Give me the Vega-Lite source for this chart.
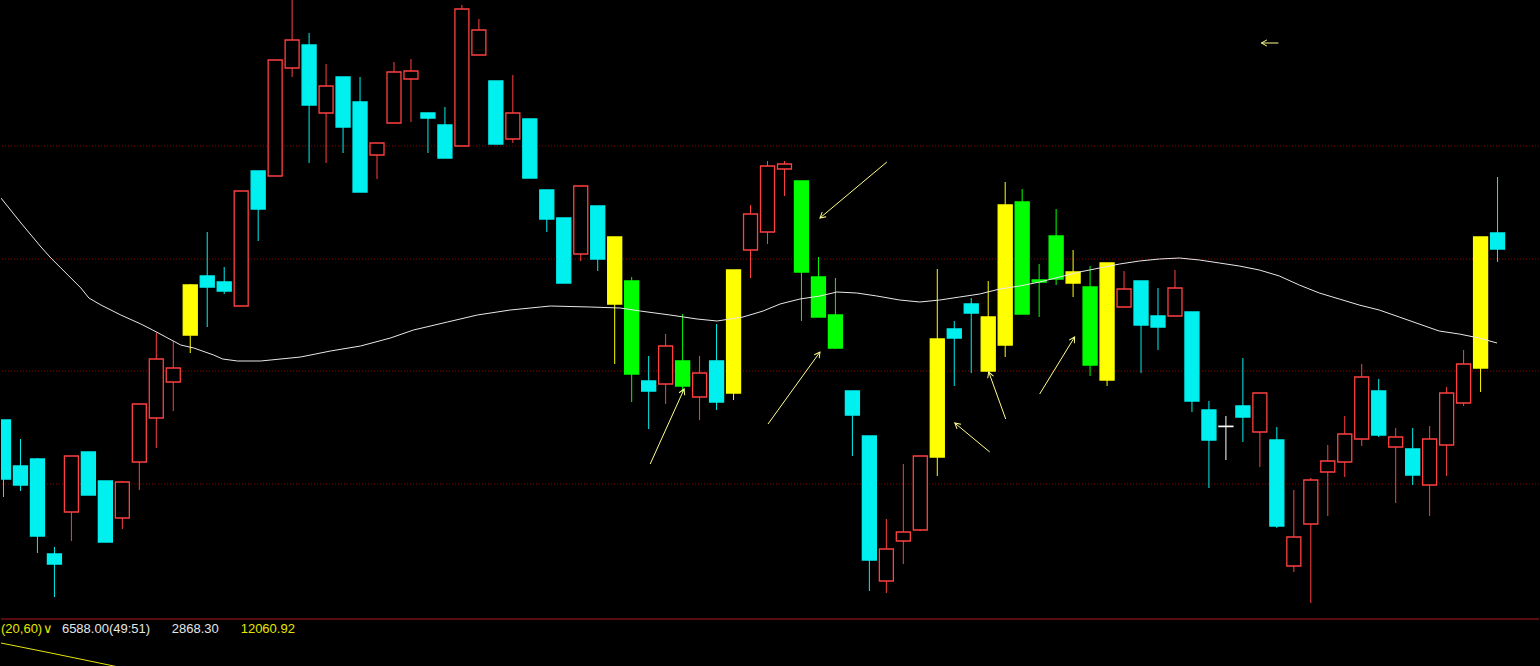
{
  "$schema": "https://vega.github.io/schema/vega-lite/v6.json",
  "width": 1540,
  "height": 666,
  "autosize": {"type": "fit", "contains": "padding"},
  "padding": 0,
  "background": "#000000",
  "config": {"view": {"stroke": null}},
  "datasets": {
    "candles": [
      {"t":0,"hi":420,"top":420,"bot":479,"lo":497,"c":"dn"},
      {"t":1,"hi":439,"top":466,"bot":485,"lo":491,"c":"dn"},
      {"t":2,"hi":458,"top":459,"bot":536,"lo":553,"c":"dn"},
      {"t":3,"hi":547,"top":554,"bot":564,"lo":597,"c":"dn"},
      {"t":4,"hi":456,"top":456,"bot":512,"lo":541,"c":"up"},
      {"t":5,"hi":452,"top":452,"bot":495,"lo":495,"c":"dn"},
      {"t":6,"hi":481,"top":481,"bot":542,"lo":542,"c":"dn"},
      {"t":7,"hi":481,"top":482,"bot":518,"lo":529,"c":"up"},
      {"t":8,"hi":404,"top":404,"bot":462,"lo":490,"c":"up"},
      {"t":9,"hi":333,"top":359,"bot":418,"lo":448,"c":"up"},
      {"t":10,"hi":341,"top":368,"bot":382,"lo":411,"c":"up"},
      {"t":11,"hi":284,"top":285,"bot":335,"lo":353,"c":"y"},
      {"t":12,"hi":232,"top":276,"bot":287,"lo":327,"c":"dn"},
      {"t":13,"hi":267,"top":282,"bot":291,"lo":294,"c":"dn"},
      {"t":14,"hi":191,"top":191,"bot":306,"lo":306,"c":"up"},
      {"t":15,"hi":171,"top":171,"bot":209,"lo":241,"c":"dn"},
      {"t":16,"hi":60,"top":60,"bot":176,"lo":176,"c":"up"},
      {"t":17,"hi":0,"top":40,"bot":68,"lo":77,"c":"up"},
      {"t":18,"hi":33,"top":45,"bot":105,"lo":163,"c":"dn"},
      {"t":19,"hi":64,"top":86,"bot":113,"lo":163,"c":"up"},
      {"t":20,"hi":77,"top":77,"bot":127,"lo":153,"c":"dn"},
      {"t":21,"hi":77,"top":102,"bot":192,"lo":192,"c":"dn"},
      {"t":22,"hi":143,"top":143,"bot":155,"lo":179,"c":"up"},
      {"t":23,"hi":62,"top":72,"bot":123,"lo":123,"c":"up"},
      {"t":24,"hi":59,"top":71,"bot":79,"lo":122,"c":"up"},
      {"t":25,"hi":113,"top":113,"bot":118,"lo":153,"c":"dn"},
      {"t":26,"hi":107,"top":125,"bot":158,"lo":158,"c":"dn"},
      {"t":27,"hi":5,"top":9,"bot":146,"lo":146,"c":"up"},
      {"t":28,"hi":19,"top":30,"bot":55,"lo":55,"c":"up"},
      {"t":29,"hi":81,"top":81,"bot":144,"lo":144,"c":"dn"},
      {"t":30,"hi":75,"top":113,"bot":139,"lo":143,"c":"up"},
      {"t":31,"hi":119,"top":119,"bot":178,"lo":178,"c":"dn"},
      {"t":32,"hi":190,"top":190,"bot":219,"lo":232,"c":"dn"},
      {"t":33,"hi":218,"top":218,"bot":283,"lo":283,"c":"dn"},
      {"t":34,"hi":186,"top":186,"bot":254,"lo":261,"c":"up"},
      {"t":35,"hi":206,"top":206,"bot":259,"lo":271,"c":"dn"},
      {"t":36,"hi":237,"top":237,"bot":304,"lo":364,"c":"y"},
      {"t":37,"hi":277,"top":281,"bot":374,"lo":402,"c":"g"},
      {"t":38,"hi":356,"top":381,"bot":391,"lo":429,"c":"dn"},
      {"t":39,"hi":334,"top":346,"bot":384,"lo":404,"c":"up"},
      {"t":40,"hi":314,"top":361,"bot":386,"lo":393,"c":"g"},
      {"t":41,"hi":356,"top":373,"bot":397,"lo":420,"c":"up"},
      {"t":42,"hi":324,"top":361,"bot":402,"lo":410,"c":"dn"},
      {"t":43,"hi":270,"top":270,"bot":393,"lo":400,"c":"y"},
      {"t":44,"hi":205,"top":214,"bot":250,"lo":278,"c":"up"},
      {"t":45,"hi":161,"top":166,"bot":232,"lo":244,"c":"up"},
      {"t":46,"hi":161,"top":164,"bot":169,"lo":196,"c":"up"},
      {"t":47,"hi":181,"top":181,"bot":272,"lo":321,"c":"g"},
      {"t":48,"hi":257,"top":277,"bot":317,"lo":317,"c":"g"},
      {"t":49,"hi":278,"top":315,"bot":348,"lo":349,"c":"g"},
      {"t":50,"hi":391,"top":391,"bot":415,"lo":456,"c":"dn"},
      {"t":51,"hi":436,"top":436,"bot":560,"lo":591,"c":"dn"},
      {"t":52,"hi":519,"top":549,"bot":581,"lo":593,"c":"up"},
      {"t":53,"hi":464,"top":532,"bot":541,"lo":564,"c":"up"},
      {"t":54,"hi":456,"top":456,"bot":530,"lo":531,"c":"up"},
      {"t":55,"hi":269,"top":339,"bot":457,"lo":476,"c":"y"},
      {"t":56,"hi":321,"top":329,"bot":338,"lo":386,"c":"dn"},
      {"t":57,"hi":298,"top":304,"bot":313,"lo":373,"c":"dn"},
      {"t":58,"hi":281,"top":317,"bot":371,"lo":371,"c":"y"},
      {"t":59,"hi":182,"top":205,"bot":345,"lo":357,"c":"y"},
      {"t":60,"hi":189,"top":202,"bot":314,"lo":314,"c":"g"},
      {"t":61,"hi":264,"top":280,"bot":282,"lo":317,"c":"g"},
      {"t":62,"hi":209,"top":236,"bot":279,"lo":285,"c":"g"},
      {"t":63,"hi":250,"top":272,"bot":283,"lo":297,"c":"y"},
      {"t":64,"hi":266,"top":287,"bot":365,"lo":376,"c":"g"},
      {"t":65,"hi":263,"top":263,"bot":380,"lo":386,"c":"y"},
      {"t":66,"hi":271,"top":289,"bot":307,"lo":307,"c":"up"},
      {"t":67,"hi":281,"top":281,"bot":325,"lo":373,"c":"dn"},
      {"t":68,"hi":288,"top":316,"bot":327,"lo":350,"c":"dn"},
      {"t":69,"hi":270,"top":288,"bot":316,"lo":316,"c":"up"},
      {"t":70,"hi":312,"top":312,"bot":401,"lo":412,"c":"dn"},
      {"t":71,"hi":401,"top":410,"bot":440,"lo":488,"c":"dn"},
      {"t":72,"hi":416,"top":426.2,"bot":426.6,"lo":460,"c":"w"},
      {"t":73,"hi":358,"top":406,"bot":417,"lo":442,"c":"dn"},
      {"t":74,"hi":393,"top":393,"bot":432,"lo":467,"c":"up"},
      {"t":75,"hi":427,"top":440,"bot":526,"lo":528,"c":"dn"},
      {"t":76,"hi":490,"top":537,"bot":566,"lo":572,"c":"up"},
      {"t":77,"hi":478,"top":480,"bot":524,"lo":603,"c":"up"},
      {"t":78,"hi":445,"top":461,"bot":472,"lo":516,"c":"up"},
      {"t":79,"hi":416,"top":434,"bot":462,"lo":477,"c":"up"},
      {"t":80,"hi":364,"top":377,"bot":439,"lo":446,"c":"up"},
      {"t":81,"hi":379,"top":391,"bot":435,"lo":437,"c":"dn"},
      {"t":82,"hi":428,"top":437,"bot":447,"lo":503,"c":"up"},
      {"t":83,"hi":428,"top":449,"bot":475,"lo":485,"c":"dn"},
      {"t":84,"hi":426,"top":439,"bot":485,"lo":516,"c":"up"},
      {"t":85,"hi":387,"top":393,"bot":445,"lo":476,"c":"up"},
      {"t":86,"hi":350,"top":364,"bot":403,"lo":406,"c":"up"},
      {"t":87,"hi":237,"top":237,"bot":368,"lo":392,"c":"y"},
      {"t":88,"hi":177,"top":233,"bot":249,"lo":262,"c":"dn"}
    ],
    "ma": [
      {"t":-0.15,"v":198},{"t":1.03,"v":223},{"t":2.21,"v":247},{"t":2.79,"v":258},{"t":3.38,"v":268},
      {"t":4.56,"v":288},{"t":5.03,"v":298},{"t":5.74,"v":305},{"t":6.91,"v":315},{"t":8.09,"v":324},
      {"t":8.79,"v":330},{"t":9.56,"v":337},{"t":10.44,"v":345},{"t":11.21,"v":348},{"t":12.38,"v":355},
      {"t":12.91,"v":359},{"t":13.79,"v":361},{"t":15.15,"v":361},{"t":17.5,"v":357},{"t":19.26,"v":351},
      {"t":21.03,"v":346},{"t":22.79,"v":338},{"t":24.15,"v":330},{"t":26.15,"v":322},{"t":27.91,"v":315},
      {"t":29.85,"v":310},{"t":31.62,"v":307},{"t":32.21,"v":306},{"t":34.56,"v":307},{"t":36.32,"v":308},
      {"t":37.5,"v":311},{"t":39.26,"v":315},{"t":40.85,"v":319},{"t":42.03,"v":321},{"t":43.56,"v":317},
      {"t":44.74,"v":311},{"t":45.74,"v":304},{"t":46.91,"v":299},{"t":48.09,"v":296},{"t":49.09,"v":292},
      {"t":50.26,"v":293},{"t":51.44,"v":296},{"t":52.79,"v":300},{"t":53.97,"v":302},{"t":55.15,"v":300},
      {"t":56.32,"v":297},{"t":57.5,"v":294},{"t":58.68,"v":289},{"t":59.85,"v":286},{"t":61.03,"v":282},
      {"t":62.21,"v":277},{"t":63.38,"v":272},{"t":64.56,"v":268},{"t":65.74,"v":264},{"t":66.91,"v":261},
      {"t":68.09,"v":259},{"t":69.26,"v":258},{"t":70.44,"v":260},{"t":71.62,"v":263},{"t":72.79,"v":266},
      {"t":73.97,"v":270},{"t":75.15,"v":276},{"t":76.32,"v":285},{"t":77.5,"v":293},{"t":78.68,"v":299},
      {"t":79.85,"v":305},{"t":81.03,"v":310},{"t":82.21,"v":317},{"t":83.38,"v":324},{"t":84.56,"v":331},
      {"t":85.74,"v":334},{"t":86.91,"v":338},{"t":87.97,"v":343}
    ],
    "ind": [
      {"t":-0.15,"v":643},{"t":2.79,"v":653},{"t":6.5,"v":666},{"t":7.5,"v":670}
    ],
    "grid": [{"v":146},{"v":259},{"v":371},{"v":484}],
    "sep": [{"v":619}],
    "arrows": [
      {"x1":38.09,"y1":464,"x2":40.09,"y2":389,"a":24.4},
      {"x1":45.03,"y1":424,"x2":48.09,"y2":352,"a":35.8},
      {"x1":52.03,"y1":162,"x2":48.09,"y2":218,"a":230.1},
      {"x1":58.09,"y1":452,"x2":56.03,"y2":423,"a":309.6},
      {"x1":59.03,"y1":419,"x2":58.03,"y2":372,"a":340.1},
      {"x1":61.03,"y1":394,"x2":63.09,"y2":337,"a":31.6},
      {"x1":75.09,"y1":43,"x2":74.09,"y2":43,"a":270}
    ],
    "labels": [
      {"t":-0.147,"v":633,"s":"(20,60)","k":"y"},
      {"t":2.3,"v":633,"s":"∨","k":"y"},
      {"t":3.44,"v":633,"s":"6588.00(49:51)","k":"w"},
      {"t":9.91,"v":633,"s":"2868.30","k":"w"},
      {"t":13.97,"v":633,"s":"12060.92","k":"y"}
    ]
  },
  "layer": [
    {
      "data": {"name": "grid"},
      "mark": {"type": "rule", "stroke": "#8c0000", "strokeWidth": 1, "strokeDash": [1, 2]},
      "encoding": {
        "y": {"field": "v", "type": "quantitative", "scale": {"domain": [0, 666], "reverse": true, "nice": false, "zero": false, "padding": 0}, "axis": null}
      }
    },
    {
      "data": {"name": "sep"},
      "mark": {"type": "rule", "stroke": "#b01818", "strokeWidth": 1},
      "encoding": {
        "y": {"field": "v", "type": "quantitative", "axis": null}
      }
    },
    {
      "data": {"name": "candles"},
      "mark": {"type": "rule", "strokeWidth": 1, "clip": true},
      "encoding": {
        "x": {"field": "t", "type": "quantitative", "scale": {"domain": [-0.147, 90.441], "nice": false, "zero": false, "padding": 0}, "axis": null},
        "y": {"field": "hi", "type": "quantitative", "axis": null},
        "y2": {"field": "lo"},
        "stroke": {"field": "c", "type": "nominal", "legend": null,
          "scale": {"domain": ["up", "dn", "y", "g", "w"], "range": ["#ff4040", "#00f0f0", "#ffff00", "#00ff00", "#ffffff"]}}
      }
    },
    {
      "data": {"name": "candles"},
      "mark": {"type": "bar", "size": 14, "strokeWidth": 1.3, "clip": true},
      "encoding": {
        "x": {"field": "t", "type": "quantitative", "axis": null},
        "y": {"field": "top", "type": "quantitative", "axis": null},
        "y2": {"field": "bot"},
        "fill": {"field": "c", "type": "nominal", "legend": null,
          "scale": {"domain": ["up", "dn", "y", "g", "w"], "range": ["#000000", "#00f0f0", "#ffff00", "#00ff00", "#ffffff"]}},
        "stroke": {"field": "c", "type": "nominal", "legend": null}
      }
    },
    {
      "data": {"name": "ma"},
      "mark": {"type": "line", "stroke": "#e8e8e8", "strokeWidth": 1, "clip": true},
      "encoding": {
        "x": {"field": "t", "type": "quantitative", "axis": null},
        "y": {"field": "v", "type": "quantitative", "axis": null}
      }
    },
    {
      "data": {"name": "ind"},
      "mark": {"type": "line", "stroke": "#e6e600", "strokeWidth": 1, "clip": true},
      "encoding": {
        "x": {"field": "t", "type": "quantitative", "axis": null},
        "y": {"field": "v", "type": "quantitative", "axis": null}
      }
    },
    {
      "data": {"name": "arrows"},
      "mark": {"type": "rule", "stroke": "#ffff8c", "strokeWidth": 1},
      "encoding": {
        "x": {"field": "x1", "type": "quantitative", "axis": null},
        "y": {"field": "y1", "type": "quantitative", "axis": null},
        "x2": {"field": "x2"},
        "y2": {"field": "y2"}
      }
    },
    {
      "data": {"name": "arrows"},
      "mark": {"type": "point", "shape": "M-0.5,0.9L0,0L0.5,0.9", "filled": false, "stroke": "#ffff8c", "strokeWidth": 1, "size": 150, "opacity": 1},
      "encoding": {
        "x": {"field": "x2", "type": "quantitative", "axis": null},
        "y": {"field": "y2", "type": "quantitative", "axis": null},
        "angle": {"field": "a", "type": "quantitative", "scale": null}
      }
    },
    {
      "data": {"name": "labels"},
      "transform": [{"filter": "datum.k == 'y'"}],
      "mark": {"type": "text", "align": "left", "baseline": "alphabetic", "font": "Liberation Sans", "fontSize": 13, "fill": "#e6e600"},
      "encoding": {
        "x": {"field": "t", "type": "quantitative", "axis": null},
        "y": {"field": "v", "type": "quantitative", "axis": null},
        "text": {"field": "s"}
      }
    },
    {
      "data": {"name": "labels"},
      "transform": [{"filter": "datum.k == 'w'"}],
      "mark": {"type": "text", "align": "left", "baseline": "alphabetic", "font": "Liberation Sans", "fontSize": 13, "fill": "#e6e6e6"},
      "encoding": {
        "x": {"field": "t", "type": "quantitative", "axis": null},
        "y": {"field": "v", "type": "quantitative", "axis": null},
        "text": {"field": "s"}
      }
    }
  ]
}
